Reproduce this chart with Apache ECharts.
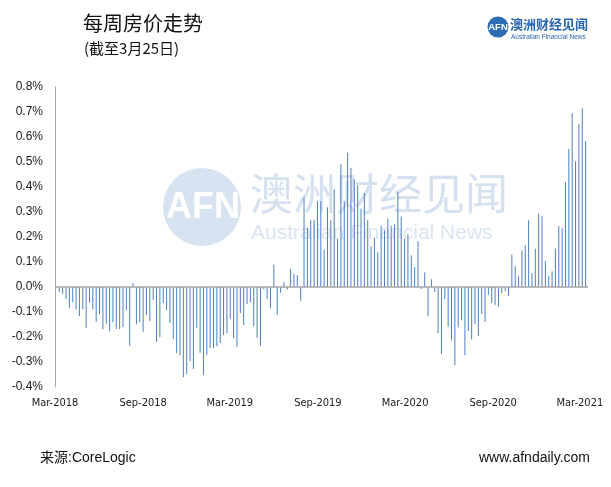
<!DOCTYPE html>
<html>
<head>
<meta charset="utf-8">
<script src="https://cdn.jsdelivr.net/npm/echarts@6/dist/echarts.min.js"></script>
<style>
  html, body { margin: 0; padding: 0; background: #fff; }
  #chart { width: 611px; height: 487px; }
</style>
</head>
<body>
<div id="chart"></div>
<script>
// Weekly change in home values (%), first week ending 10 Mar 2018
const firstWeek = [2018, 2, 10];
const weeklyChange = [
  -0.020, -0.027, -0.048, -0.083, -0.061, -0.089, -0.116, -0.089, -0.164, -0.063,
  -0.089, -0.140, -0.108, -0.169, -0.147, -0.177, -0.141, -0.168, -0.168, -0.161,
  -0.093, -0.235,  0.016, -0.149, -0.141, -0.180, -0.112, -0.136, -0.052, -0.220,
  -0.200, -0.064, -0.093, -0.144, -0.208, -0.264, -0.273, -0.361, -0.348, -0.296,
  -0.328, -0.163, -0.264, -0.352, -0.272, -0.244, -0.244, -0.237, -0.224, -0.192,
  -0.185, -0.127, -0.204, -0.240, -0.105, -0.152, -0.068, -0.060, -0.157, -0.203,
  -0.235, -0.009, -0.048, -0.084,  0.089, -0.112, -0.023,  0.020, -0.011,  0.073,
   0.053,  0.047, -0.056,  0.363,  0.237,  0.269,  0.269,  0.343,  0.343,  0.149,
   0.319,  0.267,  0.391,  0.193,  0.491,  0.343,  0.537,  0.477,  0.431,  0.407,
   0.313,  0.376,  0.267,  0.163,  0.197,  0.139,  0.245,  0.227,  0.273,  0.245,
   0.251,  0.380,  0.282,  0.193,  0.211,  0.127,  0.080,  0.183, -0.008,  0.059,
  -0.116,  0.031, -0.020, -0.185, -0.268, -0.048, -0.159, -0.213, -0.313, -0.161,
  -0.133, -0.272, -0.176, -0.209, -0.148, -0.196, -0.107, -0.140, -0.031, -0.064,
  -0.072, -0.079, -0.024, -0.016, -0.036,  0.129,  0.083,  0.043,  0.147,  0.167,
   0.267,  0.056,  0.153,  0.293,  0.283,  0.104,  0.043,  0.063,  0.153,  0.243,
   0.235,  0.419,  0.552,  0.695,  0.503,  0.653,  0.715,  0.584
];
const tickLabels = ['Mar-2018', 'Sep-2018', 'Mar-2019', 'Sep-2019', 'Mar-2020', 'Sep-2020', 'Mar-2021'];
const tickDates = [[2018, 2, 1], [2018, 8, 1], [2019, 2, 1], [2019, 8, 1], [2020, 2, 1], [2020, 8, 1], [2021, 2, 1]];
const axisMinDate = [2018, 2, 1];
const axisMaxDate = [2021, 2, 18];

const DAY = 86400000;
const toTime = d => Date.UTC(d[0], d[1], d[2]);
const start = toTime(firstWeek);
const weeks = weeklyChange.map((v, i) => [start + i * 7 * DAY, v]);
const tickTimes = tickDates.map(toTime);

const chart = echarts.init(document.getElementById('chart'), null, { renderer: 'canvas' });
chart.setOption({
  animation: false,
  backgroundColor: '#ffffff',
  grid: { left: 55, right: 23, top: 87, bottom: 100 },
  xAxis: {
    type: 'value',
    min: toTime(axisMinDate),
    max: toTime(axisMaxDate),
    axisLine: { show: false, onZero: false },
    axisTick: { show: false },
    splitLine: { show: false },
    axisLabel: {
      customValues: tickTimes,
      showMinLabel: true,
      showMaxLabel: true,
      hideOverlap: false,
      formatter: function (val) {
        const i = tickTimes.indexOf(val);
        return i >= 0 ? tickLabels[i] : '';
      },
      margin: 11,
      fontSize: 11,
      color: '#1a1a1a',
      fontFamily: "'DejaVu Sans Condensed', 'Liberation Sans', sans-serif"
    }
  },
  yAxis: {
    type: 'value',
    min: -0.4,
    max: 0.8,
    interval: 0.1,
    axisLine: { show: true, lineStyle: { color: '#a6a6a6', width: 1 } },
    axisTick: { show: false },
    splitLine: { show: false },
    axisLabel: {
      formatter: v => v.toFixed(1) + '%',
      fontSize: 12,
      margin: 12,
      color: '#1a1a1a',
      fontFamily: "'Liberation Sans', sans-serif"
    }
  },
  series: [{
    type: 'bar',
    data: weeks,
    barWidth: 1,
    itemStyle: { color: '#4f7fc0' },
    markLine: {
      silent: true,
      symbol: ['none', 'none'],
      label: { show: false },
      lineStyle: { color: '#a6a6a6', width: 1.5, type: 'solid' },
      data: [{ yAxis: 0 }]
    }
  }],
  graphic: [
    // watermark
    { type: 'circle', shape: { cx: 202, cy: 207, r: 39 }, style: { fill: '#d7e3f1' }, z: -10 },
    { type: 'text', x: 203, y: 208, z: -9, style: { text: 'AFN', fill: '#ffffff', fontSize: 36, fontWeight: 'bold', fontFamily: "'Liberation Sans', sans-serif", align: 'center', verticalAlign: 'middle' } },
    { type: 'text', x: 250, y: 194, z: -9, style: { text: '澳洲财经见闻', fill: '#d5e1f0', fontSize: 43, fontFamily: "'Noto Sans CJK SC', sans-serif", align: 'left', verticalAlign: 'middle' } },
    { type: 'text', x: 251, y: 233, z: -9, style: { text: 'Australian Financial News', fill: '#dae4f2', fontSize: 21, fontFamily: "'Liberation Sans', sans-serif", align: 'left', verticalAlign: 'middle' } },
    // titles
    { type: 'text', x: 83, y: 23, style: { text: '每周房价走势', fill: '#111111', fontSize: 20, fontFamily: "'Noto Sans CJK SC', sans-serif", align: 'left', verticalAlign: 'middle' } },
    { type: 'text', x: 84, y: 48, style: { text: '(截至3月25日)', fill: '#111111', fontSize: 15, fontFamily: "'Noto Sans CJK SC', sans-serif", align: 'left', verticalAlign: 'middle' } },
    // top-right logo
    { type: 'circle', shape: { cx: 498, cy: 27, r: 10.5 }, style: { fill: '#2e6db4' } },
    { type: 'text', x: 498, y: 27.5, style: { text: 'AFN', fill: '#ffffff', fontSize: 9.5, fontWeight: 'bold', fontFamily: "'Liberation Sans', sans-serif", align: 'center', verticalAlign: 'middle' } },
    { type: 'text', x: 510, y: 24, style: { text: '澳洲财经见闻', fill: '#2a65b0', fontSize: 13, fontWeight: 'bold', fontFamily: "'Noto Sans CJK SC', sans-serif", align: 'left', verticalAlign: 'middle' } },
    { type: 'text', x: 511, y: 37, style: { text: 'Australian Financial News', fill: '#2a65b0', fontSize: 6.5, fontFamily: "'Liberation Sans', sans-serif", align: 'left', verticalAlign: 'middle' } },
    // footer
    { type: 'text', x: 40, y: 458, style: { text: '来源:CoreLogic', fill: '#111111', fontSize: 14, fontFamily: "'Liberation Sans', 'Noto Sans CJK SC', sans-serif", align: 'left', verticalAlign: 'middle' } },
    { type: 'text', x: 590, y: 458, style: { text: 'www.afndaily.com', fill: '#111111', fontSize: 14, fontFamily: "'Liberation Sans', sans-serif", align: 'right', verticalAlign: 'middle' } }
  ]
});
</script>
</body>
</html>
